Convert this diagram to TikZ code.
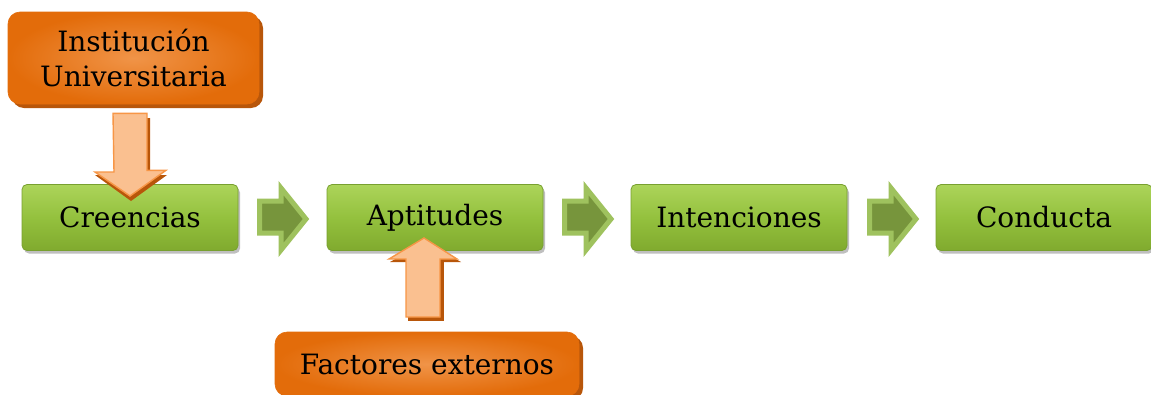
\documentclass[tikz,border=0pt]{standalone}
\usepackage{fontspec}
\setmainfont{DejaVu Serif}
\usetikzlibrary{shadows,calc}
\definecolor{orA}{HTML}{E36C0A}
\definecolor{orB}{HTML}{F09448}
\definecolor{orSh}{HTML}{B8560A}
\definecolor{grTop}{HTML}{ACD45A}
\definecolor{grMid}{HTML}{94C13E}
\definecolor{grBot}{HTML}{80AA2E}
\definecolor{grLine}{HTML}{78A030}
\definecolor{arFill}{HTML}{FAC090}
\definecolor{arLine}{HTML}{F79646}
\definecolor{gaOut}{HTML}{9FC25E}
\definecolor{gaIn}{HTML}{77953C}
\tikzset{
  txt/.style={font=\fontsize{28}{35}\selectfont, text=black, align=center},
  orbox/.style={txt, rectangle, rounded corners=12pt, inner color=orB, outer color=orA,
     draw=orA, line width=0.6pt, drop shadow={shadow xshift=4pt, shadow yshift=-4pt, fill=orSh, opacity=1}},
  grbox/.style={txt, rectangle, rounded corners=5pt, top color=grTop, bottom color=grBot, middle color=grMid,
     draw=grLine, line width=0.8pt, minimum width=216pt, minimum height=66pt,
     drop shadow={shadow xshift=2pt, shadow yshift=-3pt, fill=black, opacity=0.25}},
  orarrow/.style={fill=arFill, draw=arLine, line width=1.4pt, line join=miter},
  orshadow/.style={fill=orSh},
  grarrow/.style={fill=gaIn, draw=gaOut, line width=5pt, line join=miter},
}
\begin{document}
\begin{tikzpicture}[x=1pt,y=-1pt]
\clip (0,0) rectangle (1151,394);
\useasboundingbox (0,0) rectangle (1151,394);
\fill[white] (0,0) rectangle (1151,394);

% top orange box
\node[orbox, minimum width=251pt, minimum height=92pt] (inst) at (133.5,58) {Institución\\Universitaria};

% green boxes
\node[grbox] (cre) at (130,217.5) {Creencias};
\node[grbox] (apt) at (435,217.5) {Aptitudes};
\node[grbox] (int) at (739,217.5) {Intenciones};
\node[grbox] (con) at (1044,217.5) {Conducta};

% bottom orange box
\node[orbox, minimum width=304pt, minimum height=64pt] (fac) at (427,364) {Factores externos};

% green block arrows
\foreach \x in {0,305,610}{
  \draw[grarrow] (259.5+\x,201) -- (281+\x,201) -- (281+\x,188) -- (306+\x,219) -- (281+\x,250) -- (281+\x,233) -- (259.5+\x,233) -- cycle;
}

% down arrow (Institucion -> Creencias), shadow first
\fill[orshadow] (116,118) -- (150,118) -- (150,175) -- (167,175) -- (131,201) -- (95,175) -- (116,175) -- cycle;
\draw[orarrow] (inst.south -| 130,0) ++(-17,9) coordinate (d0)
  -- ++(34,0) -- ++(0,57) -- ++(19,0) -- (130,196) coordinate (dtip) -- ++(-35,-24) -- ++(19,0) -- cycle;

% up arrow (Factores externos -> Aptitudes)
\fill[orshadow] (408,262) -- (444,262) -- (444,321) -- (408,321) -- cycle;
\fill[orshadow] (390,262) -- (426,242) -- (461,262) -- cycle;
\draw[orarrow] (424,238) coordinate (utip) -- (457,259) -- (440,259) -- (440,317) -- (406,317) -- (406,259) -- (389,259) -- cycle;
\end{tikzpicture}
\end{document}
